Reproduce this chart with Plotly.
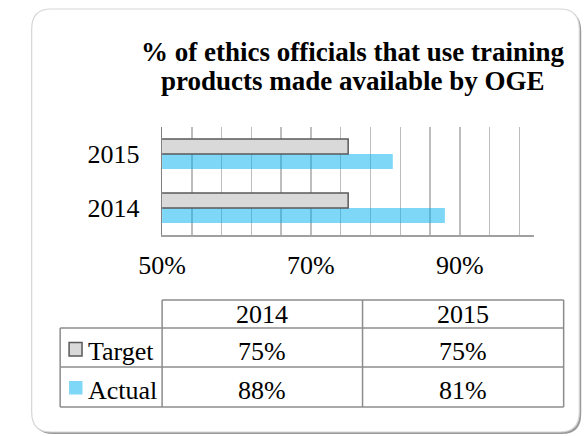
import plotly.graph_objects as go

# ---- data ----
categories = ["2014", "2015"]
target_values = [75, 75]
actual_values = [88, 81]
series_names = ["Target", "Actual"]
x_tick_values = [50, 70, 90]
x_tick_labels = ["50%", "70%", "90%"]
title_lines = ["% of ethics officials that use training", "products made available by OGE"]

W, H = 586, 436
FONT = "Liberation Serif, Times New Roman, serif"
GRID = "#bdbdbd"
TBL = "#8c8c8c"
BLUE = "rgba(0,176,240,0.5)"
GRAY = "#d9d9d9"
DARK = "#595959"


def px(x):
    return x / W


def py(y):
    return 1 - y / H


def rounded_path(x0, y0, x1, y1, r):
    pts = [
        f"M {px(x0 + r)},{py(y0)}",
        f"L {px(x1 - r)},{py(y0)}",
        f"Q {px(x1)},{py(y0)} {px(x1)},{py(y0 + r)}",
        f"L {px(x1)},{py(y1 - r)}",
        f"Q {px(x1)},{py(y1)} {px(x1 - r)},{py(y1)}",
        f"L {px(x0 + r)},{py(y1)}",
        f"Q {px(x0)},{py(y1)} {px(x0)},{py(y1 - r)}",
        f"L {px(x0)},{py(y0 + r)}",
        f"Q {px(x0)},{py(y0)} {px(x0 + r)},{py(y0)}",
        "Z",
    ]
    return " ".join(pts)


fig = go.Figure()
fig.add_trace(go.Bar(
    y=categories, x=actual_values, orientation="h", name=series_names[1],
    marker=dict(color=BLUE, line=dict(width=0)), showlegend=False,
))
fig.add_trace(go.Bar(
    y=categories, x=target_values, orientation="h", name=series_names[0],
    marker=dict(color=GRAY, line=dict(color=DARK, width=1.5)), showlegend=False,
))

shapes = []
# card shadow and card
shapes.append(dict(type="path", xref="paper", yref="paper", layer="below",
                   path=rounded_path(10, 11, 581, 434, 20),
                   fillcolor="#9a9a9a", line=dict(width=0)))
shapes.append(dict(type="path", xref="paper", yref="paper", layer="below",
                   path=rounded_path(8, 9, 579, 432, 20),
                   fillcolor="white", line=dict(color="#d6d6d6", width=1.2)))


def hline(x0, x1, y):
    shapes.append(dict(type="line", xref="paper", yref="paper",
                       x0=px(x0), x1=px(x1), y0=py(y), y1=py(y),
                       line=dict(color=TBL, width=1.5)))


def vline(x, y0, y1):
    shapes.append(dict(type="line", xref="paper", yref="paper",
                       x0=px(x), x1=px(x), y0=py(y0), y1=py(y1),
                       line=dict(color=TBL, width=1.5)))


# table grid
cx = [37.7, 144, 353, 562.7]
ry = [300, 328, 367, 407]
hline(cx[1], cx[3], ry[0])
for y in ry[1:]:
    hline(cx[0], cx[3], y)
vline(cx[0], ry[1], ry[3])
for x in cx[1:]:
    vline(x, ry[0], ry[3])

# legend keys
shapes.append(dict(type="rect", xref="paper", yref="paper",
                   x0=px(47), x1=px(60.5), y0=py(342.5), y1=py(356),
                   fillcolor=GRAY, line=dict(color=DARK, width=1.5)))
shapes.append(dict(type="rect", xref="paper", yref="paper",
                   x0=px(47), x1=px(61), y0=py(381), y1=py(394.5),
                   fillcolor="#7fd7f7", line=dict(width=0)))

annotations = []
# title
for line, yc in zip(title_lines, [52, 81]):
    annotations.append(dict(text=line, xref="paper", yref="paper",
                            x=px(343), y=py(yc), xanchor="center", yanchor="middle",
                            showarrow=False,
                            font=dict(family=FONT, size=27, color="black", weight="bold")))

col_centers = [(cx[1] + cx[2]) / 2, (cx[2] + cx[3]) / 2]
row_text_y = [314, 351.5, 390]
for cat, xc in zip(categories, col_centers):
    annotations.append(dict(text=cat, xref="paper", yref="paper", x=px(xc), y=py(row_text_y[0]),
                            xanchor="center", yanchor="middle", showarrow=False,
                            font=dict(family=FONT, size=26, color="black")))
for vals, yc in zip([target_values, actual_values], row_text_y[1:]):
    for v, xc in zip(vals, col_centers):
        annotations.append(dict(text=f"{v}%", xref="paper", yref="paper", x=px(xc), y=py(yc),
                                xanchor="center", yanchor="middle", showarrow=False,
                                font=dict(family=FONT, size=26, color="black")))
for name, yc in zip(series_names, row_text_y[1:]):
    annotations.append(dict(text=name, xref="paper", yref="paper", x=px(65), y=py(yc),
                            xanchor="left", yanchor="middle", showarrow=False,
                            font=dict(family=FONT, size=26, color="black")))

fig.update_layout(
    width=W, height=H,
    margin=dict(l=0, r=0, t=0, b=0),
    paper_bgcolor="white",
    plot_bgcolor="rgba(0,0,0,0)",
    barmode="group",
    bargap=0.444,
    bargroupgap=0,
    showlegend=False,
    shapes=shapes,
    annotations=annotations,
    xaxis=dict(
        domain=[px(144), px(532)],
        range=[50, 100],
        tickmode="array",
        tickvals=x_tick_values,
        ticktext=x_tick_labels,
        showgrid=True, gridcolor=GRID, gridwidth=1.5,
        minor=dict(tickmode="linear", tick0=50, dtick=4, showgrid=True,
                   gridcolor=GRID, gridwidth=1.5, ticks=""),
        showline=True, linecolor="#a0a0a0", linewidth=1.5,
        ticks="", zeroline=False,
        tickfont=dict(family=FONT, size=26, color="black"),
        ticklabelstandoff=6,
        fixedrange=True,
    ),
    yaxis=dict(
        domain=[py(235), py(127)],
        type="category",
        range=[-0.5, 1.5],
        showgrid=False,
        showline=True, linecolor="#808080", linewidth=1.5,
        ticks="", zeroline=False,
        tickfont=dict(family=FONT, size=26, color="black"),
        ticklabelstandoff=16,
        fixedrange=True,
    ),
)

fig.write_html(
    "out.html",
    config={"displayModeBar": False, "staticPlot": True},
    post_script="document.body.style.margin='0';document.body.style.overflow='hidden';",
)
